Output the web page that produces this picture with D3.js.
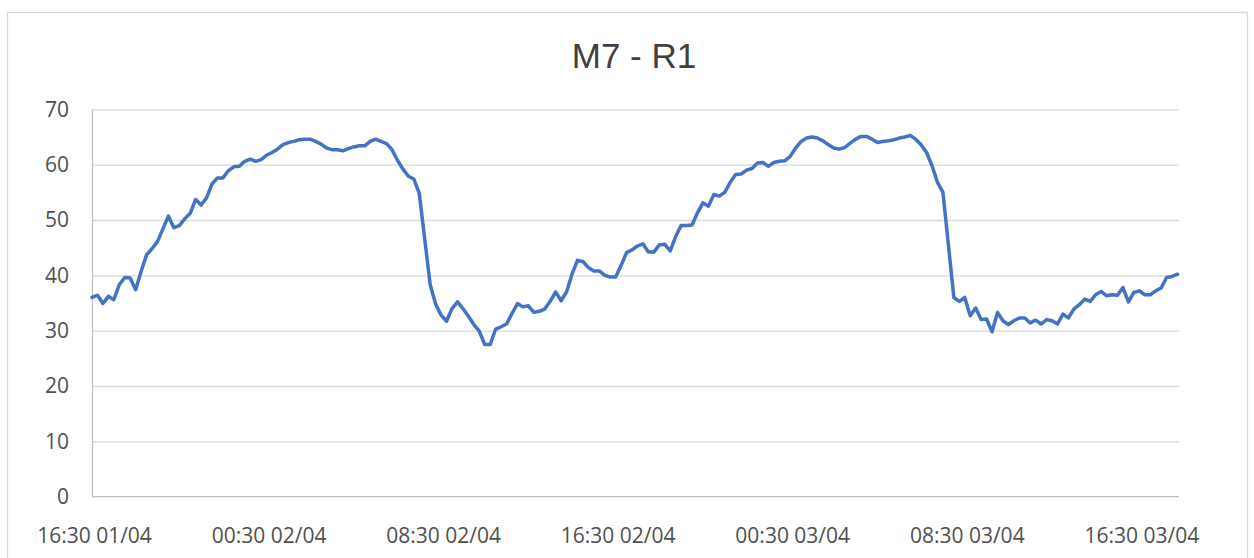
<!DOCTYPE html>
<html>
<head>
<meta charset="utf-8">
<script src="https://cdn.jsdelivr.net/npm/d3@7/dist/d3.min.js"></script>
<style>
    html, body { margin: 0; padding: 0; background: #fff; }
    .chart_text { font-family: "Open Sans", sans-serif; fill: #505050; }
</style>
</head>
<body>
<div id="chart"></div>
<script>
// chart data - one reading every 15 min, starting 16:30 01/04
const title = 'M7 - R1';
const values = [
    36.0, 36.4, 34.9, 36.2, 35.6, 38.3, 39.6, 39.5, 37.4, 40.7,
    43.7, 44.8, 46.1, 48.4, 50.7, 48.6, 49.0, 50.2, 51.2, 53.7,
    52.7, 54.0, 56.5, 57.6, 57.6, 58.9, 59.6, 59.7, 60.6, 61.0,
    60.6, 60.9, 61.7, 62.2, 62.8, 63.6, 64.0, 64.2, 64.5, 64.6,
    64.6, 64.2, 63.7, 63.0, 62.7, 62.7, 62.5, 62.9, 63.2, 63.4,
    63.4, 64.2, 64.6, 64.2, 63.8, 62.7, 60.8, 59.2, 57.9, 57.4,
    54.8, 46.5, 38.3, 34.8, 32.8, 31.7, 34.0, 35.2, 34.0, 32.6,
    31.1, 29.9, 27.5, 27.5, 30.3, 30.7, 31.2, 33.1, 34.9, 34.3,
    34.5, 33.3, 33.5, 33.9, 35.3, 37.0, 35.4, 37.0, 40.2, 42.7,
    42.5, 41.4, 40.8, 40.8, 40.0, 39.7, 39.7, 41.8, 44.1, 44.6,
    45.3, 45.7, 44.2, 44.2, 45.5, 45.6, 44.4, 47.0, 49.0, 49.0,
    49.1, 51.3, 53.1, 52.5, 54.6, 54.3, 55.0, 56.8, 58.2, 58.3,
    59.0, 59.3, 60.3, 60.4, 59.7, 60.4, 60.6, 60.7, 61.5, 63.0,
    64.2, 64.8, 65.0, 64.8, 64.3, 63.6, 63.0, 62.8, 63.1, 63.9,
    64.6, 65.1, 65.1, 64.6, 64.0, 64.2, 64.3, 64.5, 64.8, 65.0,
    65.3, 64.6, 63.6, 62.2, 59.8, 56.8, 55.0, 45.5, 36.0, 35.3,
    36.0, 32.7, 34.1, 32.0, 32.1, 29.8, 33.3, 31.8, 31.1, 31.8,
    32.3, 32.3, 31.4, 31.9, 31.2, 32.0, 31.8, 31.2, 33.0, 32.3,
    33.9, 34.7, 35.7, 35.3, 36.5, 37.1, 36.3, 36.5, 36.4, 37.8,
    35.2, 36.9, 37.2, 36.5, 36.5, 37.2, 37.7, 39.6, 39.8, 40.2
];
const yTicks = [0, 10, 20, 30, 40, 50, 60, 70];
const xTickStep = 32;   // one label every 8 hours
const xTickLabels = ['16:30 01/04', '00:30 02/04', '08:30 02/04', '16:30 02/04',
                     '00:30 03/04', '08:30 03/04', '16:30 03/04'];

// figure dimensions
const width = 1254, height = 558;
const margin = {top: 109.3, bottom: 61.3, left: 92, right: 75};   // plot area margins

const svg = d3.select('#chart')
    .append('svg')
    .attr('width', width)
    .attr('height', height);

// outer chart border
svg.append('rect')
    .attr('x', 7.5).attr('y', 12.5)
    .attr('width', 1240).attr('height', 570)
    .attr('fill', 'none')
    .attr('stroke', '#d9d9d9')
    .attr('stroke-width', 1.3);

const scaleX = d3.scaleLinear([0, values.length - 1], [margin.left, width - margin.right - 1.5]);
const scaleY = d3.scaleLinear([0, 70], [height - margin.bottom, margin.top]);

// gridlines
svg.append('g')
    .attr('transform', `translate(${margin.left},0)`)
    .call(d3.axisLeft(scaleY).tickValues(yTicks.slice(1))
        .tickSize(-(width - margin.left - margin.right)).tickFormat(''))
    .call(g => g.select('.domain').remove())
    .selectAll('line')
    .attr('stroke', '#d9d9d9')
    .attr('stroke-width', 1.3);

// y axis
svg.append('g')
    .attr('transform', `translate(${margin.left},0)`)
    .call(d3.axisLeft(scaleY).tickValues(yTicks).tickSize(0).tickPadding(23))
    .call(g => g.select('.domain').attr('stroke', '#bfbfbf').attr('stroke-width', 1.3))
    .selectAll('text')
    .attr('class', 'chart_text')
    .style('font-size', '21px');

// x axis
const xTicks = xTickLabels.map((d, i) => i * xTickStep);
svg.append('g')
    .attr('transform', `translate(0,${height - margin.bottom})`)
    .call(d3.axisBottom(scaleX).tickValues(xTicks)
        .tickFormat((d, i) => xTickLabels[i]).tickSize(0).tickPadding(31))
    .call(g => g.select('.domain')
        .attr('d', `M${margin.left},0H${width - margin.right}`)
        .attr('stroke', '#bfbfbf').attr('stroke-width', 1.3))
    .selectAll('text')
    .attr('class', 'chart_text')
    .attr('dx', 2)
    .style('font-size', '21px');

// data line
const lineGen = d3.line()
    .x((d, i) => scaleX(i))
    .y(d => scaleY(d));

svg.append('path')
    .datum(values)
    .attr('d', lineGen)
    .attr('fill', 'none')
    .attr('stroke', '#4472c4')
    .attr('stroke-width', 3.5)
    .attr('stroke-linejoin', 'round')
    .attr('stroke-linecap', 'round');

// title
svg.append('text')
    .attr('class', 'chart_text')
    .attr('x', 634).attr('y', 68)
    .style('text-anchor', 'middle')
    .style('font-family', '"Liberation Sans", Arial, sans-serif')
    .style('font-size', '35px')
    .style('fill', '#404040')
    .text(title);
</script>
</body>
</html>
